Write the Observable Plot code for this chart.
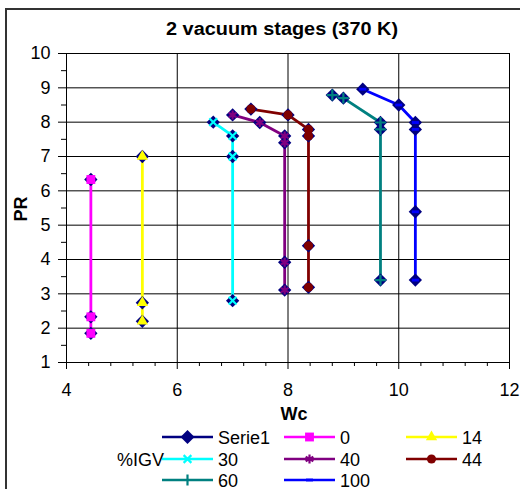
<!DOCTYPE html>
<html><head><meta charset="utf-8">
<script src="https://cdn.jsdelivr.net/npm/d3@7"></script>
<script src="https://cdn.jsdelivr.net/npm/@observablehq/plot@0.6"></script>
<style>
body{margin:0;background:#fff;}
#wrap{position:relative;width:520px;height:489px;overflow:hidden;font-family:"Liberation Sans",Arial,sans-serif;}
#border{position:absolute;left:5px;top:8px;width:540px;height:520px;border:2px solid #333;box-sizing:border-box;}
#plot{position:absolute;left:0;top:0;}
#over{position:absolute;left:0;top:0;}
</style></head>
<body><div id="wrap"><div id="border"></div><div id="plot"></div><svg id="over" width="520" height="489"></svg></div>
<script>
const title = "2 vacuum stages (370 K)";
const xLabel = "Wc";
const yLabel = "PR";
const legendTitle = "%IGV";
const seriesNames = ["0","14","30","40","44","60","100"];
const seriesColors = ["#FF00FF","#FFFF00","#00FFFF","#800080","#800000","#008080","#0000FF"];
const baseName = "Serie1";
const baseColor = "#000080";

const wc0 = [4.44,4.44,4.44];               const pr0 = [6.33,2.33,1.85];
const wc14 = [5.37,5.37,5.37];              const pr14 = [7.0,2.74,2.2];
const wc30 = [6.65,7.0,7.0,7.0];            const pr30 = [8.0,7.6,7.0,2.8];
const wc40 = [7.0,7.49,7.94,7.94,7.94,7.94]; const pr40 = [8.21,7.99,7.6,7.4,3.92,3.11];
const wc44 = [7.33,8.0,8.37,8.37,8.37,8.37]; const pr44 = [8.38,8.21,7.79,7.6,4.4,3.19];
const wc60 = [8.8,9.0,9.67,9.67,9.67];       const pr60 = [8.79,8.7,7.99,7.79,3.4];
const wc100 = [9.35,10.0,10.3,10.3,10.3,10.3]; const pr100 = [8.96,8.5,7.99,7.79,5.39,3.4];

const xTicks = [4,6,8,10,12];
const yTicks = [1,2,3,4,5,6,7,8,9,10];

const wcs = [wc0,wc14,wc30,wc40,wc44,wc60,wc100];
const prs = [pr0,pr14,pr30,pr40,pr44,pr60,pr100];
const data = [];
seriesNames.forEach((s,i)=>wcs[i].forEach((x,j)=>data.push({s, wc:x, pr:prs[i][j], i:j})));

const dash = {draw(ctx,size){const w=Math.sqrt(size);ctx.rect(-w*0.55,-w*0.22,w*1.1,w*0.44);}};
const symbols = ["square","triangle","times","asterisk","circle","plus",dash];
const radii = [5.0,4.2,3.6,4.2,4.6,3.6,3.6];
const stroked = [false,false,true,true,false,true,false];

const marks = [
  Plot.ruleY(yTicks,{stroke:"#000",strokeWidth:1}),
  Plot.ruleX(xTicks,{stroke:"#000",strokeWidth:1}),
  Plot.axisY({ticks:yTicks,tickSize:8,tickPadding:8,fontSize:18,label:null}),
  Plot.axisY({ticks:d3.range(1.5,10,1),tickSize:5,text:null,label:null}),
  Plot.axisX({ticks:xTicks,tickSize:7,tickPadding:14,fontSize:18,label:null}),
  Plot.axisX({ticks:d3.range(4.4,12,0.4).filter(v=>Math.abs(v/2-Math.round(v/2))>0.01),tickSize:4,text:null,label:null}),
  Plot.frame({stroke:"#000",strokeWidth:1})
];
seriesNames.forEach((s,i)=>{
  marks.push(Plot.line(data.filter(d=>d.s===s),{x:"wc",y:"pr",stroke:seriesColors[i],strokeWidth:2.8}));
});
marks.push(Plot.dot(data,{x:"wc",y:"pr",symbol:"diamond2",r:6,fill:baseColor,stroke:"none"}));
seriesNames.forEach((s,i)=>{
  const opts = {x:"wc",y:"pr",symbol:symbols[i],r:radii[i]};
  if(stroked[i]){opts.stroke=seriesColors[i];opts.strokeWidth=2.2;opts.fill="none";}
  else {opts.fill=seriesColors[i];opts.stroke="none";}
  marks.push(Plot.dot(data.filter(d=>d.s===s),opts));
});

const chart = Plot.plot({
  width:520, height:430,
  marginTop:53, marginBottom:68, marginLeft:66, marginRight:11,
  x:{domain:[4,12]}, y:{domain:[1,10]},
  style:{fontFamily:"Liberation Sans, Arial, sans-serif",color:"#000",background:"transparent",overflow:"visible"},
  marks
});
document.getElementById("plot").appendChild(chart);

// overlay texts and legend
const o = d3.select("#over");
const ff = "Liberation Sans, Arial, sans-serif";
o.append("text").attr("x",282).attr("y",35).attr("text-anchor","middle").attr("font-family",ff)
 .attr("font-weight","bold").attr("font-size",18).attr("textLength",232).attr("lengthAdjust","spacingAndGlyphs").text(title);
o.append("text").attr("transform","translate(27,209) rotate(-90)").attr("text-anchor","middle").attr("font-family",ff)
 .attr("font-weight","bold").attr("font-size",18).text(yLabel);
o.append("text").attr("x",294).attr("y",420).attr("text-anchor","middle").attr("font-family",ff)
 .attr("font-weight","bold").attr("font-size",18).text(xLabel);

const rowsY = [437,459,480];
const colsX = [162,284,406];
const items = [{name:baseName,color:baseColor,sym:"diamond2",r:6.3,st:false}]
  .concat(seriesNames.map((s,i)=>({name:s,color:seriesColors[i],sym:symbols[i],r:radii[i],st:stroked[i]})));
const symMap = {square:d3.symbolSquare,triangle:d3.symbolTriangle,times:d3.symbolTimes,asterisk:d3.symbolAsterisk,circle:d3.symbolCircle,plus:d3.symbolPlus,diamond2:d3.symbolDiamond2};
items.forEach((it,k)=>{
  const row = Math.floor(k/3), col = k%3;
  const x0 = colsX[col], y0 = rowsY[row];
  const g = o.append("g");
  g.append("line").attr("x1",x0).attr("x2",x0+51).attr("y1",y0).attr("y2",y0).attr("stroke",it.color).attr("stroke-width",2.6);
  const type = typeof it.sym === "string" ? symMap[it.sym] : it.sym;
  const p = g.append("path").attr("d",d3.symbol(type, it.r*it.r*Math.PI)()).attr("transform",`translate(${x0+25.5},${y0})`);
  if(it.st) p.attr("fill","none").attr("stroke",it.color).attr("stroke-width",2.2);
  else p.attr("fill",it.color);
  g.append("text").attr("x",x0+56).attr("y",y0+6.5).attr("font-family",ff).attr("font-size",18).text(it.name);
});
o.append("text").attr("x",117).attr("y",rowsY[1]+6.5).attr("font-family",ff).attr("font-size",18).text(legendTitle);
</script></body></html>
